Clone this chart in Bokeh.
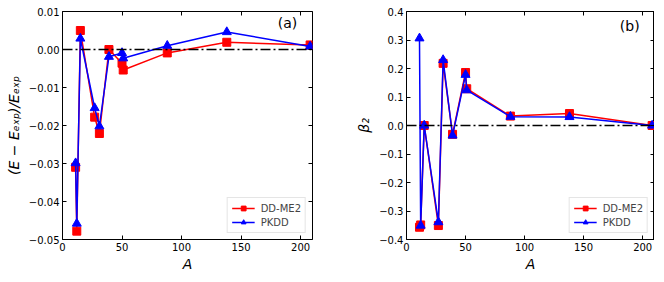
from bokeh.plotting import figure
from bokeh.models import (Span, Label, LinearAxis, FixedTicker, Range1d)
from bokeh.layouts import row
from bokeh.embed import file_html
from bokeh.resources import INLINE

# ---- data ----
A = [11, 12, 15, 27, 31, 39, 50, 51, 88, 138, 208]
dE_ddme2 = [-0.0310, -0.0478, 0.0050, -0.0178, -0.0221, 0.0000, -0.0036, -0.0054, -0.0009, 0.0019, 0.0012]
dE_pkdd = [-0.0299, -0.0458, 0.0029, -0.0154, -0.0202, -0.0019, -0.0009, -0.0023, 0.0010, 0.0046, 0.0008]
beta_ddme2 = [-0.357, -0.349, 0.000, -0.351, 0.218, -0.031, 0.186, 0.129, 0.033, 0.042, 0.000]
beta_pkdd = [0.306, -0.351, 0.000, -0.339, 0.230, -0.035, 0.178, 0.124, 0.031, 0.030, 0.000]

x_ticks = [0, 50, 100, 150, 200]
yl_ticks = [0.01, 0.0, -0.01, -0.02, -0.03, -0.04, -0.05]
yl_labels = ["0.01", "0.00", "\u22120.01", "\u22120.02", "\u22120.03", "\u22120.04", "\u22120.05"]
yr_ticks = [0.4, 0.3, 0.2, 0.1, 0.0, -0.1, -0.2, -0.3, -0.4]
yr_labels = ["0.4", "0.3", "0.2", "0.1", "0.0", "\u22120.1", "\u22120.2", "\u22120.3", "\u22120.4"]

FONT = "DejaVu Sans"


def style_axis(ax, ticks, labels=None, hide=False):
    ax.ticker = FixedTicker(ticks=ticks)
    ax.axis_line_color = None
    ax.major_tick_in = 4
    ax.major_tick_out = 0
    ax.minor_tick_line_color = None
    ax.major_tick_line_color = "black"
    ax.major_label_text_font = FONT
    ax.major_label_text_font_size = "10px"
    ax.major_label_text_color = "black"
    ax.major_label_standoff = 3
    if hide:
        ax.major_label_overrides = {t: "" for t in ticks}
        ax.major_label_standoff = 0
    elif labels is not None:
        ax.major_label_overrides = {t: l for t, l in zip(ticks, labels)}


def make_panel(y_red, y_blue, y_range, yticks, ylabels, ylabel, tag, tag_y,
               width, bl, br):
    p = figure(width=width, height=274, output_backend="svg", toolbar_location=None,
               x_range=Range1d(0, 210), y_range=Range1d(*y_range),
               min_border_left=bl, min_border_right=br, min_border_top=11,
               min_border_bottom=33)
    p.xgrid.visible = False
    p.ygrid.visible = False
    p.outline_line_color = "black"
    p.outline_line_width = 1
    p.background_fill_color = "white"
    p.border_fill_color = "white"

    style_axis(p.xaxis[0], x_ticks, [str(t) for t in x_ticks])
    style_axis(p.yaxis[0], yticks, ylabels)
    p.xaxis.axis_label = "A"
    p.xaxis.axis_label_text_font = FONT
    p.xaxis.axis_label_text_font_style = "italic"
    p.xaxis.axis_label_text_font_size = "14px"
    p.xaxis.axis_label_text_color = "black"
    p.xaxis.axis_label_standoff = 2
    p.yaxis.axis_label = ylabel
    p.yaxis.axis_label_text_font = FONT
    p.yaxis.axis_label_text_font_style = "italic"
    p.yaxis.axis_label_text_font_size = "14px"
    p.yaxis.axis_label_text_color = "black"
    p.yaxis.axis_label_standoff = 4

    top = LinearAxis()
    style_axis(top, x_ticks, hide=True)
    p.add_layout(top, "above")
    right = LinearAxis()
    style_axis(right, yticks, hide=True)
    p.add_layout(right, "right")

    p.add_layout(Span(location=0, dimension="width", line_color="black",
                      line_width=1.3, line_dash="10 3 2 3"))

    p.line(A, y_red, color="#ff0000", line_width=1.5, legend_label="DD-ME2")
    p.scatter(A, y_red, marker="square", size=8, color="#ff0000", legend_label="DD-ME2")
    p.line(A, y_blue, color="#0000ff", line_width=1.5, legend_label="PKDD")
    p.scatter(A, y_blue, marker="triangle", size=9, color="#0000ff", legend_label="PKDD")

    p.add_layout(Label(x=189, y=tag_y, text=tag, text_font=FONT, text_font_size="14px",
                       text_align="center", text_baseline="middle", text_color="black"))

    lg = p.legend[0]
    lg.location = "bottom_right"
    lg.margin = 6
    lg.padding = 4
    lg.spacing = 2
    lg.glyph_width = 23
    lg.glyph_height = 12
    lg.label_height = 12
    lg.label_standoff = 6
    lg.label_text_font = FONT
    lg.label_text_font_size = "10px"
    lg.border_line_color = "#cccccc"
    lg.border_line_width = 1
    lg.background_fill_alpha = 0.8
    return p


p1 = make_panel(dE_ddme2, dE_pkdd, (-0.05, 0.01), yl_ticks, yl_labels,
                "(E \u2212 E\u2091\u2093\u209a)/E\u2091\u2093\u209a", "(a)", 0.007,
                width=330, bl=62, br=18)
p2 = make_panel(beta_ddme2, beta_pkdd, (-0.4, 0.4), yr_ticks, yr_labels,
                "\u03b2\u2082", "(b)", 0.35, width=324, bl=76, br=0)

p = row(p1, p2)
open("out.html", "w").write(file_html(p, INLINE))
